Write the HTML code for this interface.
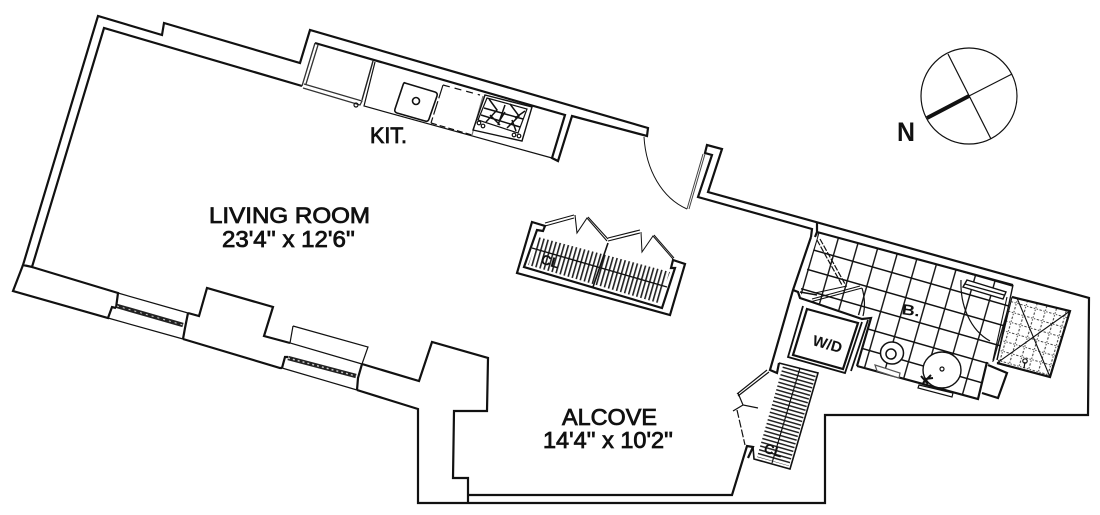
<!DOCTYPE html>
<html><head><meta charset="utf-8"><style>html,body{margin:0;padding:0;background:#fff}svg{display:block}text{font-family:"Liberation Sans",sans-serif;fill:#111}</style></head><body>
<svg width="1100" height="515" viewBox="0 0 1100 515" xmlns="http://www.w3.org/2000/svg">
<defs>
<pattern id="hatch" width="4.2" height="8" patternUnits="userSpaceOnUse" patternTransform="rotate(16)"><rect width="1.6" height="8" fill="#222"/></pattern>
<pattern id="hatch2" width="8" height="3.9" patternUnits="userSpaceOnUse" patternTransform="rotate(16)"><rect width="8" height="1.5" fill="#222"/></pattern>
<pattern id="tile" width="20.3" height="20.3" patternUnits="userSpaceOnUse" patternTransform="translate(833.3,255.7) rotate(16) translate(-10.15,-10.15)"><path d="M0 10.15H20.3M10.15 0V20.3" stroke="#111" stroke-width="1.4" fill="none"/></pattern>
<pattern id="dots" width="10" height="10" patternUnits="userSpaceOnUse" patternTransform="translate(1013,297) rotate(16)"><path d="M0 5H10M5 0V10" stroke="#444" stroke-width="1.1" stroke-dasharray="1.4 1.6" fill="none"/></pattern>
</defs>
<rect width="1100" height="515" fill="#fff"/>

<!-- bathroom floor fills -->
<polygon points="818,232 1013,285 997,360 985,365 978,399 857,366 870,318 807,302 800,292 817,238" fill="url(#tile)"/>
<polygon points="1012,297 1070,311 1050,377 997,363" fill="url(#dots)"/>

<g fill="none" stroke="#111" stroke-width="2.2" stroke-linejoin="miter">
<!-- main outer thick wall -->
<path d="M302,86 L104,28 L32,267 L23,265 L98,16 L162,35 L164,23 L300,63 L310,30 L648,128 L647,136 L572,116 L558,161 L552,158 L565,115 L315,43" />
<path d="M23,265 L13,291 L108,318 L112,307 L116,308"/>
<path d="M32,267 L118,293 L116,308"/>
<path d="M188,313 L199,316 L207,288 L273,307 L264,336 L290,343"/>
<path d="M183,339 L280,368 L282,368"/>
<path d="M188,313 L185,328 L183,339"/>
<path d="M362,364 L419,381 L432,342 L488,358 L487,411 L454,411 L453,478 L468,478 L468,503"/>
<path d="M468,495 L732,495 L747,446 L753,447 L748,458"/>
<path d="M357,390 L418,409 L418,503 L825,503 L825,415 L1088,415 L1089,298 L708,192 L722,149 L707,145 L705,153 L712,155 L698,197 L812,229 L811,237"/>
<path d="M817,223 L817,232 L815,237"/>
<path d="M362,364 L358,378 L357,390"/>
<path d="M282,368 L285,357 L288,357"/>
<!-- bath inner top wall -->
<path d="M817,232 L1013,285"/>
<!-- left wall of bath/closet -->
<path d="M811,237 L793,290 L770,370 L777,373 L779,363"/>
<path d="M793,290 L798,292 L800,298 L812,302 L862,319 L871,318 L857,366"/>
<path d="M800,292 L817,295" stroke-width="1.4"/>
<!-- W/D box -->
<path d="M803,306 L788,357 L845,373 L862,322 M868,320 L851,371" stroke-width="1.8"/>
<path d="M807,309 L858,323 L843,369 L793,355 Z"/>
<!-- bath walls -->
<path d="M1013,285 L997,360" stroke-width="1.4"/>
<path d="M857,366 L978,399 L987,362"/>
<path d="M1012,297 L1070,311 L1050,377 L997,363" />
<path d="M988,365 L1007,373 L998,398 L982,393"/>
<!-- central closet wall -->
<path d="M532,222 L545,226 L543,231 L537,230 L524,267 L662,308 L675,268 L671,268 L673,260 L685,264 L670,315 L517,273 Z"/>
<!-- alcove closet box -->
<path d="M779,363 L818,373 L790,469 L754,459 L753,447" stroke-width="1.6"/>
</g>

<!-- hatch closets -->
<polygon points="538,237 670,272 658,303 528,265" fill="url(#hatch)"/>
<polygon points="783,366 816,375 789,466 757,457" fill="url(#hatch2)"/>
<g fill="none" stroke="#111" stroke-width="1.2">
<path d="M532,248 L667,287" stroke-width="1.4"/>
<path d="M608,243 L593,287" stroke-width="1.6"/>
<path d="M800,368 L772,463"/>
<!-- kitchen -->
<path d="M315,43 L302,86 M318,45 L306,84" stroke="#333" stroke-width="1.3"/>
<path d="M373,61 L362,100" stroke="#222" stroke-width="1.4"/>
<path d="M304,84 L362,101 L360,105 L303,88" stroke="#333" stroke-width="1.3"/>
<circle cx="356" cy="105" r="2"/>
<path d="M375,62 L364,106 L552,158"/>
<path d="M405,83 L435,92 Q438,93 437,96 L429,119 Q428,122 425,121 L397,113 Q394,112 395,109 L403,85 Q404,82 405,83 Z" stroke-width="1.6"/>
<circle cx="416" cy="101" r="3.5" stroke-width="1.6"/>
<path d="M443,85 L480,95" stroke-dasharray="7 5"/>
<path d="M443,85 L431,123" stroke-dasharray="14 3"/>
<path d="M431,123 L472,135" stroke-dasharray="6 3"/>
<path d="M472,135 L483,96" stroke="#777"/>
<path d="M485,95 L532,107 L522,141 L473,130 Z" stroke-width="1.4"/>
<path d="M487,98 L527,109 L518,133 L478,120 Z" stroke-width="1.2"/>
<path d="M505,105 L498,125 M484,108 L523,119 M481,115 L520,127 M489,99 L497,110 L486,122 M510,104 L519,116 L507,128 M490,115 L500,125 M512,120 L516,131 M505,112 L500,120 M525,111 L515,118" stroke-width="1.5"/>
<circle cx="479" cy="123" r="1.8"/><circle cx="483" cy="126" r="1.8"/><circle cx="514" cy="135" r="1.8"/><circle cx="519" cy="136" r="1.8"/>
<!-- entry door -->
<path d="M644,137 C646,170 662,198 687,209" stroke-width="1"/>
<path d="M687,209 L703,154 M689,209 L705,154" stroke-width="1" stroke="#444"/>
<!-- windows -->
<path d="M118,293 L188,313"/>
<path d="M108,318 L183,339"/>
<path d="M293,326 L368,347 L362,364 M293,326 L290,343 L362,364"/>
<path d="M282,368 L357,390"/>
<!-- central closet doors -->
<path d="M545,223 L574,215 M545,226 L574,218" stroke-width="1.1"/>
<path d="M575,215 L577,233 L587,218 L607,241 M588,217 L608,239" stroke-width="1.1"/>
<path d="M608,241 L640,233 M608,238 L640,230" stroke-width="1.1"/>
<path d="M641,232 L642,252 L653,236 L673,259 M654,235 L674,258" stroke-width="1"/>
<!-- alcove closet door -->
<path d="M769,372 L738,396 M767,370 L737,394"/>
<path d="M738,393 L743,405 L758,408 M733,411 L743,405"/>
<path d="M737,410 L745,445" stroke-dasharray="8 2"/>
<!-- bath details -->
<path d="M817,240 L842,285 M820,239 L845,284" stroke-dasharray="6 1.5"/>
<path d="M810,302 L862,288 M815,293 L847,286 M812,299 L860,286" stroke-width="1.1"/>
<path d="M862,288 C865,298 865,308 863,316"/>
<path d="M961,280 C960,305 970,330 990,341"/>
<path d="M967,280 L1006,292 L1003,299 L963,287 Z M965,284 L1004,295" stroke-width="1.4" fill="#fff"/>
<path d="M1007,297 L993,360 M1012,297 L997,360" stroke-width="1.1"/>
<path d="M1017,298 L1050,377 M1070,311 L997,363" stroke-width="1.1"/>
<circle cx="1025" cy="361" r="2.2" fill="#fff"/>
<path d="M1025,362 L1024,368"/>
<!-- toilet -->
<path d="M875,365 L900,373 L899,378 L877,371 Z" fill="#fff" stroke="#555"/>
<ellipse cx="892" cy="353" rx="11.5" ry="11" fill="#fff" stroke-width="1.5"/>
<circle cx="891" cy="354" r="5" stroke-width="1.5"/>
<!-- sink -->
<ellipse cx="942" cy="370" rx="19" ry="18" fill="#fff" stroke-width="1.4"/>
<circle cx="942" cy="369" r="2"/>
<path d="M919,385 L953,393 L952,397 L918,388 Z" fill="#fff" stroke-width="1.2"/>
<path d="M921,376 L928,384 M931,375 L923,383 M925,379 L933,378" stroke-width="2"/>
</g>

<!-- window dark sills -->
<g fill="none" stroke-linecap="butt">
<path d="M117,306 L183,325" stroke="#222" stroke-width="4.5"/>
<path d="M117,306 L183,325" stroke="#ccc" stroke-width="1" stroke-dasharray="2 4"/>
<path d="M288,358 L356,376" stroke="#222" stroke-width="4.5"/>
<path d="M288,358 L356,376" stroke="#ccc" stroke-width="1.4" stroke-dasharray="2 3"/>
</g>

<!-- compass -->
<circle cx="969" cy="96" r="48" fill="none" stroke="#111" stroke-width="1.2"/>
<path d="M948,54 L991,139 M969,96 L1012,74" stroke="#111" stroke-width="1.2" fill="none"/>
<path d="M969,96 L927,118" stroke="#111" stroke-width="4" fill="none"/>

<!-- labels -->
<text x="897" y="141" font-size="27" font-weight="bold" textLength="18" lengthAdjust="spacingAndGlyphs">N</text>
<text x="209" y="223" font-size="22" stroke="#111" stroke-width=".8" textLength="161" lengthAdjust="spacingAndGlyphs">LIVING ROOM</text>
<text x="222" y="247" font-size="23" stroke="#111" stroke-width=".8" textLength="133" lengthAdjust="spacingAndGlyphs">23'4'' x 12'6''</text>
<text x="370" y="143" font-size="22" stroke="#111" stroke-width=".8" textLength="37" lengthAdjust="spacingAndGlyphs">KIT.</text>
<text x="562" y="425" font-size="23" stroke="#111" stroke-width=".8" textLength="95" lengthAdjust="spacingAndGlyphs">ALCOVE</text>
<text x="543" y="448" font-size="23" stroke="#111" stroke-width=".8" textLength="130" lengthAdjust="spacingAndGlyphs">14'4'' x 10'2''</text>
<text x="902" y="315" font-size="15" font-weight="bold" textLength="18" lengthAdjust="spacingAndGlyphs" transform="rotate(8 908 309)">B.</text>
<text transform="translate(826,349) rotate(16)" text-anchor="middle" font-size="15" font-weight="bold" textLength="30" lengthAdjust="spacingAndGlyphs">W/D</text>
<text transform="translate(549,266) rotate(16)" text-anchor="middle" font-size="14" font-weight="bold">CL</text>
<text transform="translate(772,455) rotate(16)" text-anchor="middle" font-size="14" font-weight="bold">CL</text>
</svg>
</body></html>
